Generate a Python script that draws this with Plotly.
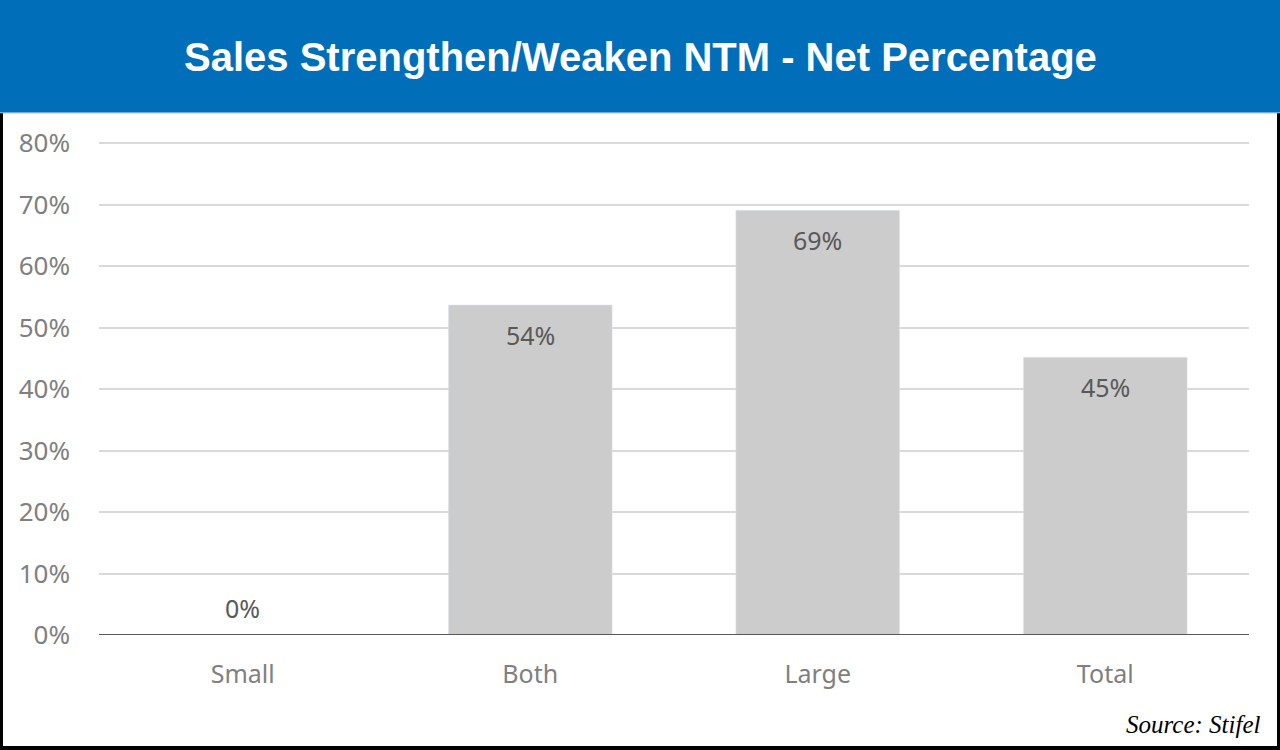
import plotly.graph_objects as go

categories = ["Small", "Both", "Large", "Total"]
values = [0, 53.7, 69.1, 45.2]
labels = ["0%", "54%", "69%", "45%"]
title_text = "Sales Strengthen/Weaken NTM - Net Percentage"
source_text = "Source: Stifel"

W, H = 1280, 750
YMAX = 80.2
L, R, B = 99, 1249, 635
T = B - (B - 143) * YMAX / 80  # so 80% sits at y=143


def px(x):
    return (x - L) / (R - L)


def py(y):
    return (B - y) / (B - T)


fig = go.Figure()
fig.add_trace(go.Bar(
    x=categories, y=values, marker_color="#CCCCCC", width=0.57,
    hoverinfo="skip", showlegend=False,
))

for c, v, t in zip(categories, values, labels):
    fig.add_annotation(
        x=c, y=v, xref="x", yref="y", text=t, showarrow=False,
        yanchor="middle", yshift=(-30 if v > 0 else 27),
        font=dict(family="Noto Sans", size=25, color="#595959"),
    )

shapes = [
    dict(type="rect", xref="paper", yref="paper", x0=px(-10), x1=px(W + 10), y0=py(112), y1=py(-10),
         fillcolor="#006EB9", line_width=0, layer="below"),
    dict(type="line", xref="paper", yref="paper", x0=px(0), x1=px(W), y0=py(112.5), y1=py(112.5),
         line=dict(color="#5B9BD5", width=1)),
    dict(type="rect", xref="paper", yref="paper", x0=px(0), x1=px(3), y0=py(750), y1=py(113),
         fillcolor="black", line_width=0),
    dict(type="rect", xref="paper", yref="paper", x0=px(1277), x1=px(1280), y0=py(750), y1=py(113),
         fillcolor="black", line_width=0),
    dict(type="rect", xref="paper", yref="paper", x0=px(0), x1=px(1280), y0=py(750), y1=py(746),
         fillcolor="black", line_width=0),
    dict(type="line", xref="paper", yref="y", x0=0, x1=1, y0=0, y1=0,
         line=dict(color="#595959", width=2)),
]

fig.add_annotation(
    xref="paper", yref="paper", x=px(640), y=py(57), text="<b>" + title_text + "</b>",
    showarrow=False, xanchor="center", yanchor="middle",
    font=dict(family="Liberation Sans", size=40, color="white"),
)
fig.add_annotation(
    xref="paper", yref="paper", x=px(1263), y=py(725), text="<i>" + source_text + "</i>",
    showarrow=False, xanchor="right", yanchor="middle",
    font=dict(family="Liberation Serif", size=25, color="black"),
)

fig.update_layout(
    width=W, height=H,
    margin=dict(l=L, r=W - R, t=T, b=H - B, pad=0),
    paper_bgcolor="white", plot_bgcolor="white",
    shapes=shapes,
    bargap=0.43,
    font=dict(family="Noto Sans", color="#7F7F7F"),
)
fig.update_yaxes(
    range=[0, YMAX], tick0=0, dtick=10, ticksuffix="%", showgrid=True, gridcolor="#D9D9D9",
    gridwidth=1.5, zeroline=False, showline=False, tickfont=dict(size=26, color="#7F7F7F"),
    ticks="", ticklabelstandoff=28,
)
fig.update_xaxes(
    showgrid=False, zeroline=False, showline=False, ticks="",
    tickfont=dict(size=25, color="#7F7F7F"), ticklabelstandoff=22,
)

fig.write_html(
    "out.html",
    config={"displayModeBar": False},
    post_script="document.body.style.margin='0';document.body.style.overflow='hidden';",
)
